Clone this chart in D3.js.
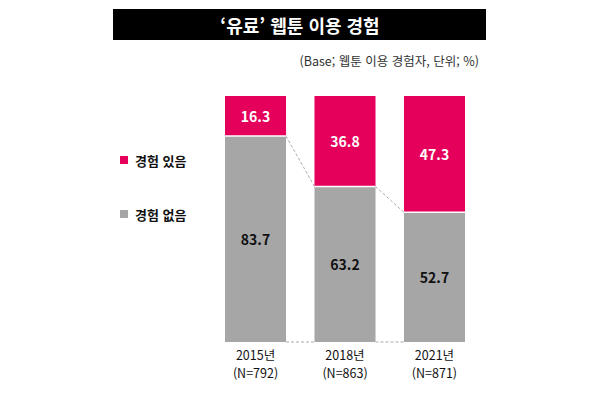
<!DOCTYPE html>
<html lang="ko">
<head>
<meta charset="utf-8">
<title>유료 웹툰 이용 경험</title>
<script src="https://d3js.org/d3.v7.min.js"></script>
<style>
  body { margin: 0; background: #fff; }
  text { font-family: "Noto Sans CJK KR", "Noto Sans", sans-serif; }
</style>
</head>
<body>
<div id="chart"></div>
<script>
const years = ["2015년", "2018년", "2021년"];
const samples = ["(N=792)", "(N=863)", "(N=871)"];
const yes = [16.3, 36.8, 47.3];
const no = [83.7, 63.2, 52.7];
const legendLabels = ["경험 있음", "경험 없음"];

const width = 600, height = 395;
const pink = "#e4005b", gray = "#a6a6a6";

const svg = d3.select("#chart").append("svg")
    .attr("width", width).attr("height", height);

// title bar
svg.append("rect").attr("x", 113).attr("y", 9).attr("width", 373).attr("height", 31).attr("fill", "#000");
svg.append("text").attr("x", 300).attr("y", 25).attr("text-anchor", "middle")
    .attr("dominant-baseline", "central").attr("fill", "#fff")
    .attr("font-size", 18).attr("font-weight", "bold")
    .text("‘유료’ 웹툰 이용 경험");
svg.append("text").attr("x", 479).attr("y", 60).attr("text-anchor", "end")
    .attr("dominant-baseline", "central").attr("fill", "#333").attr("font-size", 12.5)
    .text("(Base; 웹툰 이용 경험자, 단위; %)");

const x = d3.scaleBand().domain(years).range([225, 465]).paddingInner(0.318).paddingOuter(0);
const y = d3.scaleLinear().domain([0, 100]).range([342, 96]);
const bw = x.bandwidth();

const data = years.map((yr, i) => ({ yr, yes: yes[i], no: no[i], n: samples[i] }));

// dashed connectors
const dash = svg.append("g").attr("stroke", "#aaa").attr("stroke-dasharray", "3,2").attr("stroke-width", 1);
data.slice(0, -1).forEach((d, i) => {
  const nx = data[i + 1];
  dash.append("line")
    .attr("x1", x(d.yr) + bw).attr("y1", y(d.no))
    .attr("x2", x(nx.yr)).attr("y2", y(nx.no));
  dash.append("line")
    .attr("x1", x(d.yr) + bw).attr("y1", y(0))
    .attr("x2", x(nx.yr)).attr("y2", y(0));
});

const bars = svg.append("g").selectAll("g").data(data).join("g");
bars.append("rect")
    .attr("x", d => x(d.yr)).attr("y", d => y(d.no))
    .attr("width", bw).attr("height", d => y(0) - y(d.no))
    .attr("fill", gray);
bars.append("rect")
    .attr("x", d => x(d.yr)).attr("y", d => y(100))
    .attr("width", bw).attr("height", d => y(d.no) - y(100))
    .attr("fill", pink);
bars.append("line")
    .attr("x1", d => x(d.yr)).attr("x2", d => x(d.yr) + bw)
    .attr("y1", d => y(d.no)).attr("y2", d => y(d.no))
    .attr("stroke", "#fff").attr("stroke-width", 1.5);

bars.append("text")
    .attr("x", d => x(d.yr) + bw / 2).attr("y", d => (y(100) + y(d.no)) / 2)
    .attr("text-anchor", "middle").attr("dominant-baseline", "central")
    .attr("fill", "#fff").attr("font-size", 14).attr("font-weight", "bold")
    .text(d => d.yes.toFixed(1));
bars.append("text")
    .attr("x", d => x(d.yr) + bw / 2).attr("y", d => (y(d.no) + y(0)) / 2)
    .attr("text-anchor", "middle").attr("dominant-baseline", "central")
    .attr("fill", "#111").attr("font-size", 14).attr("font-weight", "bold")
    .text(d => d.no.toFixed(1));

// x labels
bars.append("text")
    .attr("x", d => x(d.yr) + bw / 2).attr("y", 354)
    .attr("text-anchor", "middle").attr("dominant-baseline", "central")
    .attr("fill", "#111").attr("font-size", 12.5)
    .text(d => d.yr);
bars.append("text")
    .attr("x", d => x(d.yr) + bw / 2).attr("y", 372)
    .attr("text-anchor", "middle").attr("dominant-baseline", "central")
    .attr("fill", "#111").attr("font-size", 12.5)
    .text(d => d.n);

// legend
const legend = svg.append("g").selectAll("g").data(legendLabels).join("g")
    .attr("transform", (d, i) => `translate(120, ${160 + i * 54})`);
legend.append("rect").attr("x", 0).attr("y", -4).attr("width", 8).attr("height", 8)
    .attr("fill", (d, i) => i === 0 ? pink : gray);
legend.append("text").attr("x", 15).attr("y", 0).attr("dominant-baseline", "central")
    .attr("fill", "#111").attr("font-size", 13).attr("font-weight", "bold")
    .text(d => d);
</script>
</body>
</html>
